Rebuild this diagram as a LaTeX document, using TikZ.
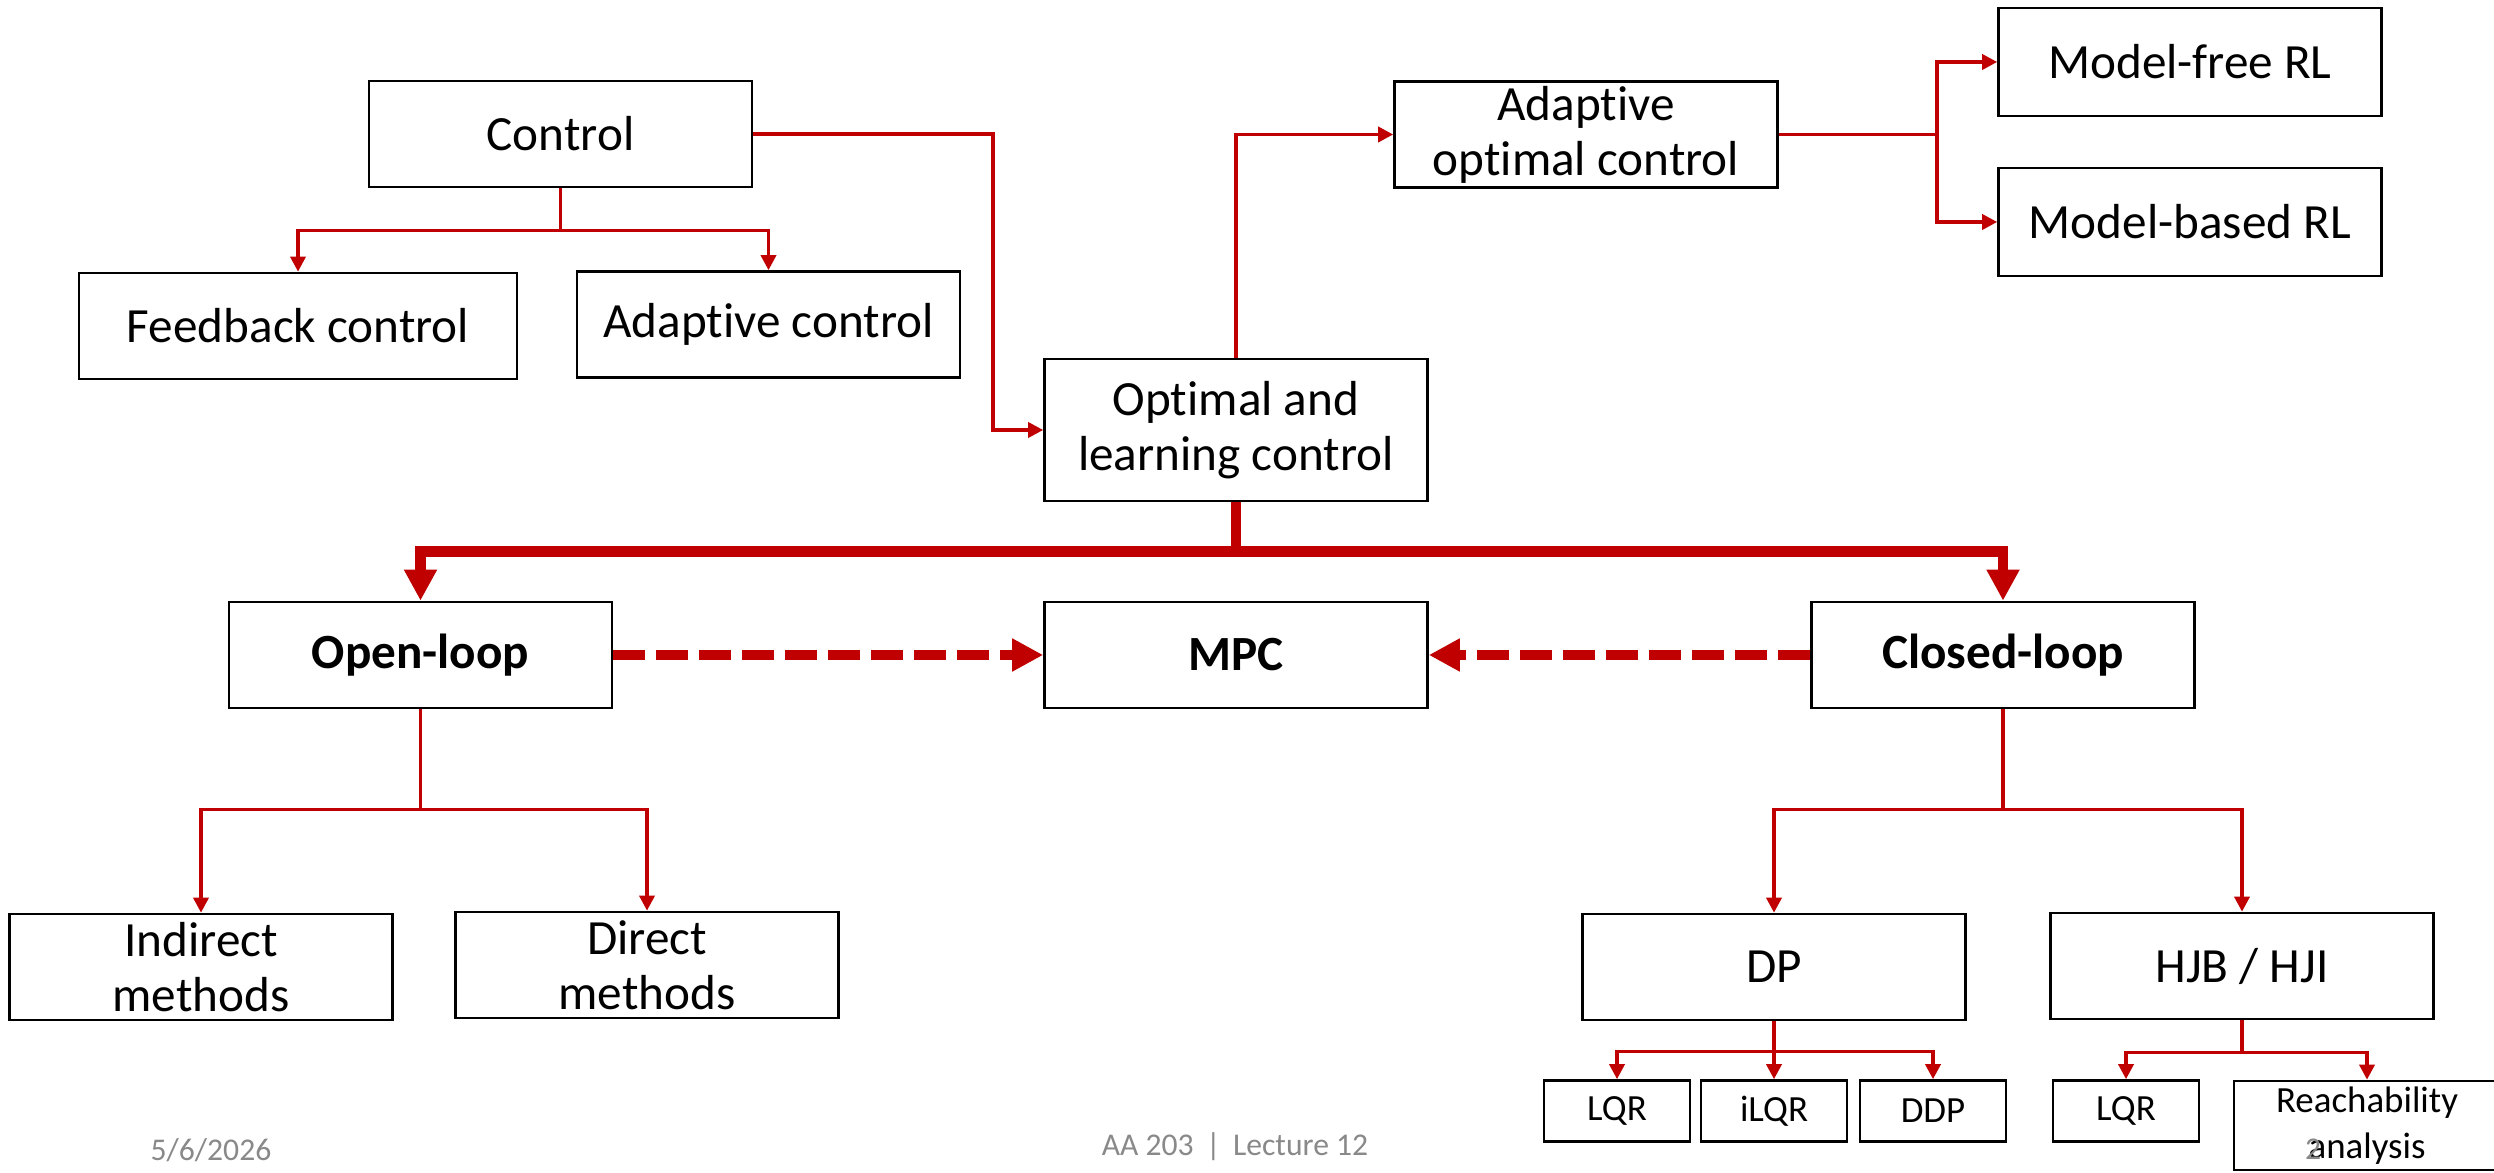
\documentclass[tikz,border=0pt]{standalone}
\usepackage{fontspec}
\setmainfont{Carlito}[Ligatures=NoCommon]
\usetikzlibrary{arrows.meta}

\begin{document}
\begin{tikzpicture}[
        box/.style={draw=black, line width=0.75pt, inner sep=0pt, align=center, minimum width=3.83cm, minimum height=1.06cm, font=\fontsize{14}{15.6}\selectfont},
        boldbox/.style={box, font=\fontsize{14}{15.6}\selectfont\bfseries},
        leaf/.style={draw=black, line width=0.75pt, inner sep=0pt, align=center, minimum width=1.46cm, minimum height=0.61cm, font=\fontsize{10.5}{13}\selectfont},
        link/.style={draw=ctrlred, line width=1pt, -{Triangle[length=1.5mm,width=1.5mm]}},
        biglink/.style={draw=ctrlred, line width=3.1pt, -{Triangle[length=3.1mm,width=3.1mm]}},
        dashlink/.style={biglink, dash pattern=on 3.2mm off 1.1mm},
        footer/.style={text=footgray, inner sep=0pt, font=\fontsize{9}{11}\selectfont}
    ]
        \definecolor{ctrlred}{RGB}{192,0,0}
        \definecolor{footgray}{RGB}{137,137,137}

        \useasboundingbox[fill=white] (0,0) rectangle (24.94,-11.73);

        % Control family
        \node[box] (ctrl) at (5.605,-1.34) {Control};
        \node[box, minimum width=4.38cm] (fb) at (2.98,-3.26) {Feedback control};
        \node[box] (adc) at (7.685,-3.245) {Adaptive control};

        % optimal / learning branch
        \node[box, minimum height=1.42cm] (olc) at (12.36,-4.30) {Optimal and\\learning control};
        \node[box] (aoc) at (15.86,-1.345) {Adaptive\\optimal control};
        \node[box, minimum height=1.08cm] (mfrl) at (21.90,-0.62) {Model-free RL};
        \node[box, minimum height=1.08cm] (mbrl) at (21.90,-2.22) {Model-based RL};

        % open vs closed loop
        \node[boldbox] (ol) at (4.205,-6.55) {Open-loop};
        \node[boldbox] (mpc) at (12.36,-6.55) {MPC};
        \node[boldbox] (cl) at (20.03,-6.55) {Closed-loop};

        \node[box] (ind) at (2.01,-9.67) {Indirect\\methods};
        \node[box] (dir) at (6.47,-9.65) {Direct\\methods};
        \node[box] (dp) at (17.74,-9.67) {DP};
        \node[box] (hjb) at (22.42,-9.66) {HJB / HJI};

        \node[leaf] (lqra) at (16.17,-11.11) {LQR};
        \node[leaf] (ilqr) at (17.74,-11.11) {iLQR};
        \node[leaf] (ddp) at (19.33,-11.11) {DDP};
        \node[leaf] (lqrb) at (21.26,-11.11) {LQR};
        \node[leaf, minimum width=2.66cm, minimum height=0.89cm] (reach) at (23.67,-11.255) {Reachability\\analysis};

        % connectors
        \draw[link] (ctrl.south) -- ++(0,-0.42) -| (fb.north);
        \draw[link] (ctrl.south) -- ++(0,-0.42) -| (adc.north);
        \draw[link] (ctrl.east) -| ([xshift=-5mm]olc.west) -- (olc.west);
        \draw[link] (olc.north) |- (aoc.west);
        \draw[link] (aoc.east) -- ++(1.58,0) |- (mfrl.west);
        \draw[link] (aoc.east) -- ++(1.58,0) |- (mbrl.west);

        \draw[biglink] (olc.south) -- ++(0,-0.49) -| (ol.north);
        \draw[biglink] (olc.south) -- ++(0,-0.49) -| (cl.north);
        \draw[dashlink] (ol.east) -- (mpc.west);
        \draw[dashlink] (cl.west) -- (mpc.east);

        \draw[link] (ol.south) -- ++(0,-1) -| (ind.north);
        \draw[link] (ol.south) -- ++(0,-1) -| (dir.north);
        \draw[link] (cl.south) -- ++(0,-1) -| (dp.north);
        \draw[link] (cl.south) -- ++(0,-1) -| (hjb.north);

        \draw[link] (dp.south) -- ++(0,-0.30) -| (lqra.north);
        \draw[link] (dp.south) -- (ilqr.north);
        \draw[link] (dp.south) -- ++(0,-0.30) -| (ddp.north);
        \draw[link] (hjb.south) -- ++(0,-0.32) -| (lqrb.north);
        \draw[link] (hjb.south) -- ++(0,-0.32) -| (reach.north);

        % slide footer
        \node[footer] (date) at (2.11,-11.50) {5/6/2026};
        \node[footer] (course) at (12.35,-11.47) {AA 203 \,|\, Lecture 12};
        \node[footer] (page) at (23.13,-11.49) {2};
    \end{tikzpicture}
\end{document}
